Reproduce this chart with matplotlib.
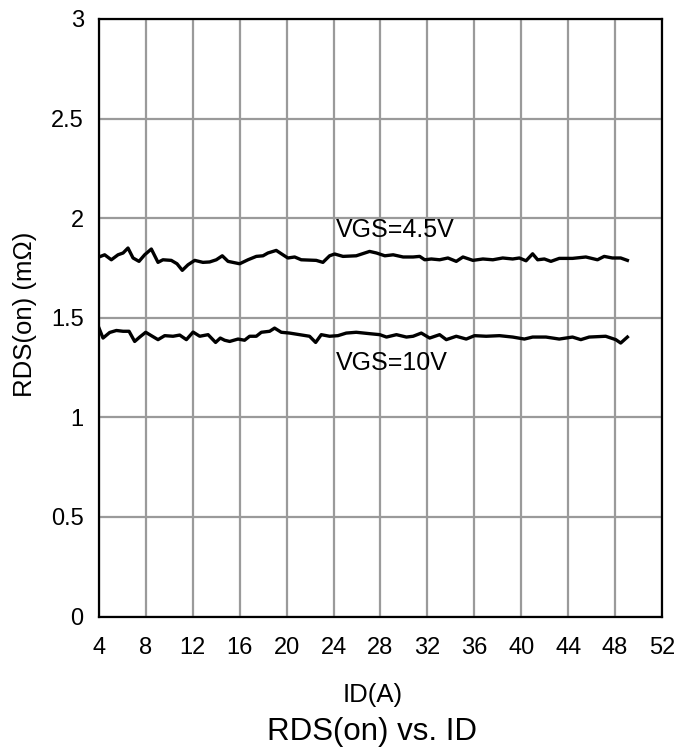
import matplotlib
matplotlib.use("Agg")
import matplotlib.pyplot as plt
import numpy as np

plt.rcParams['font.family'] = ['Liberation Sans', 'DejaVu Sans']

# VGS = 4.5 V
id_45 = [4.0, 4.48, 5.05, 5.62, 6.05, 6.47, 6.9, 7.41, 7.89, 8.46, 9.03, 9.45, 10.16, 10.65,
         11.1, 11.59, 12.16, 12.86, 13.43, 14.0, 14.51, 15.0, 15.99, 16.7, 17.41, 17.98, 18.4,
         19.11, 19.68, 20.1, 20.68, 21.24, 22.52, 23.09, 23.66, 24.09, 24.8, 25.93, 27.07,
         27.66, 28.37, 29.08, 29.93, 30.78, 31.34, 31.77, 32.33, 33.04, 33.75, 34.46, 35.03,
         35.88, 36.73, 37.58, 38.42, 39.27, 39.84, 40.41, 40.97, 41.4, 41.97, 42.53, 43.24,
         44.37, 45.51, 46.5, 47.07, 47.77, 48.48, 49.05]
rds_45 = [1.805, 1.816, 1.791, 1.816, 1.825, 1.850, 1.800, 1.783, 1.816, 1.845, 1.778, 1.791,
          1.788, 1.771, 1.738, 1.766, 1.788, 1.778, 1.780, 1.791, 1.811, 1.783, 1.771, 1.791,
          1.808, 1.811, 1.825, 1.838, 1.816, 1.800, 1.805, 1.791, 1.788, 1.778, 1.811, 1.820,
          1.808, 1.811, 1.833,
          1.825, 1.811, 1.816, 1.805, 1.805, 1.808, 1.791, 1.795, 1.791, 1.800, 1.783, 1.805,
          1.788, 1.795, 1.791, 1.800, 1.795, 1.800, 1.786, 1.821, 1.791, 1.795, 1.783, 1.798,
          1.798, 1.805, 1.791, 1.808, 1.800, 1.800, 1.788]

# VGS = 10 V
id_10 = [4.0, 4.34, 4.91, 5.48, 6.05, 6.56, 7.04, 7.47, 7.98, 8.46, 9.03, 9.6, 10.31, 10.88,
         11.45, 12.02, 12.59, 13.3, 13.94, 14.34, 14.71, 15.14, 15.85, 16.41, 16.84, 17.41,
         17.84, 18.55, 18.97, 19.54, 20.25, 21.1, 21.95, 22.47, 22.95, 23.66, 24.37, 25.08,
         25.93, 27.07,
         27.94, 28.51, 29.36, 30.21, 30.78, 31.48, 32.19, 33.04, 33.61, 34.46, 35.31, 36.02,
         37.01, 38.14, 39.27, 40.27, 40.97, 42.11, 43.24, 44.37, 45.08, 45.79, 47.2, 48.06,
         48.48, 49.05]
rds_10 = [1.448, 1.398, 1.426, 1.436, 1.432, 1.432, 1.381, 1.403, 1.427, 1.410, 1.390, 1.410,
          1.407, 1.413, 1.390, 1.428, 1.407, 1.415, 1.376, 1.398, 1.387, 1.381, 1.393, 1.387,
          1.407, 1.407, 1.427, 1.432, 1.448, 1.427, 1.423, 1.415, 1.407, 1.376, 1.415, 1.407,
          1.410, 1.423, 1.427, 1.420,
          1.415, 1.403, 1.415, 1.403, 1.407, 1.423, 1.398, 1.415, 1.390, 1.407, 1.393, 1.410,
          1.407, 1.410, 1.403, 1.393, 1.403, 1.403, 1.393, 1.403, 1.390, 1.403, 1.407, 1.390,
          1.373, 1.403]

x_ticks = [4, 8, 12, 16, 20, 24, 28, 32, 36, 40, 44, 48, 52]
y_ticks = [0, 0.5, 1, 1.5, 2, 2.5, 3]
y_ticklabels = ['0', '0.5', '1', '1.5', '2', '2.5', '3']

fig = plt.figure(figsize=(6.91, 7.5), dpi=100)
ax = fig.add_axes([0.1433, 0.178, 0.8147, 0.7967])

ax.plot(id_45, rds_45, color='black', lw=2.4, solid_joinstyle='round', zorder=3)
ax.plot(id_10, rds_10, color='black', lw=2.4, solid_joinstyle='round', zorder=3)

ax.set_xlim(4, 52)
ax.set_ylim(0, 3)
ax.set_xticks(x_ticks)
ax.set_yticks(y_ticks)
ax.set_yticklabels(y_ticklabels)
ax.grid(True, color='#9a9a9a', lw=1.6)
ax.set_axisbelow(True)
for s in ax.spines.values():
    s.set_color('black')
    s.set_linewidth(1.6)
    s.set_zorder(4)
ax.tick_params(axis='both', length=0, labelsize=17)
ax.tick_params(axis='x', pad=15)
ax.tick_params(axis='y', pad=11)

ax.text(24.2, 1.939, 'VGS=4.5V', fontsize=18, ha='left', va='center')
ax.text(24.2, 1.271, 'VGS=10V', fontsize=18, ha='left', va='center')

fig.text(25.5 / 691, 1 - 314 / 750, 'RDS(on) (mΩ)', fontsize=18.5, rotation=90,
         ha='center', va='center')
fig.text(372.5 / 691, 1 - 695 / 750, 'ID(A)', fontsize=18.5, ha='center', va='center')
fig.text(371.5 / 691, 1 - 732 / 750, 'RDS(on) vs. ID', fontsize=22.5, ha='center', va='center')

fig.savefig('out.png', dpi=100)
